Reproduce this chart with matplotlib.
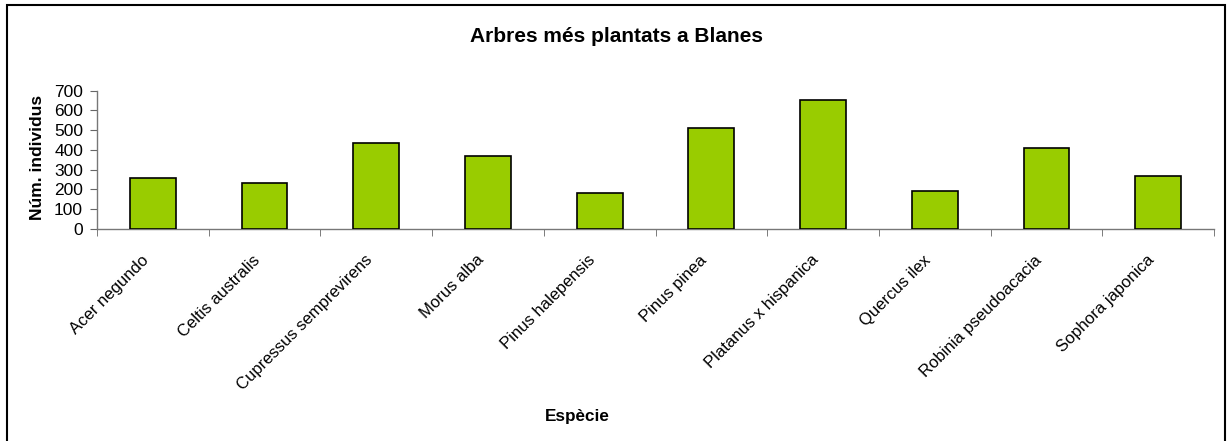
import matplotlib.pyplot as plt
from matplotlib.patches import Rectangle
from matplotlib.ticker import FixedLocator
from matplotlib.transforms import ScaledTranslation

plt.rcParams['font.family'] = ['Liberation Sans', 'DejaVu Sans']

# Tree species and number of trees planted
species = ["Acer negundo", "Celtis australis", "Cupressus semprevirens", "Morus alba",
           "Pinus halepensis", "Pinus pinea", "Platanus x hispanica", "Quercus ilex",
           "Robinia pseudoacacia", "Sophora japonica"]
counts = [259, 231, 436, 368, 183, 511, 655, 191, 408, 265]
y_ticks = [0, 100, 200, 300, 400, 500, 600, 700]

W, H = 1227, 441
fig = plt.figure(figsize=(W / 100, H / 100), dpi=100)
ax = fig.add_axes([97 / W, 1 - 228.7 / H, (1214 - 97) / W, (228.7 - 90.7) / H])

x = list(range(len(species)))
ax.bar(x, counts, width=0.41, color='#99CC00', edgecolor='black', linewidth=1.2, zorder=3)

ax.set_xlim(-0.5, len(species) - 0.5)
ax.set_ylim(0, 700)
ax.set_yticks(y_ticks)
ax.set_yticklabels([str(v) for v in y_ticks], fontsize=12.5)

ax.set_xticks(x)
ax.set_xticklabels(species, rotation=45, ha='right', rotation_mode='anchor', fontsize=12)
ax.tick_params(axis='x', which='major', length=0, pad=17)
shift = ScaledTranslation(-12 / 100, 0, fig.dpi_scale_trans)
for lab in ax.get_xticklabels():
    lab.set_transform(lab.get_transform() + shift)
ax.xaxis.set_minor_locator(FixedLocator([i - 0.5 for i in range(len(species) + 1)]))
ax.tick_params(axis='x', which='minor', length=5, color='#666666', direction='out')
ax.tick_params(axis='y', length=5, color='#666666', pad=5)

for s in ['top', 'right']:
    ax.spines[s].set_visible(False)
for s in ['left', 'bottom']:
    ax.spines[s].set_color('#777777')
    ax.spines[s].set_linewidth(1.0)

fig.text(617 / W, 1 - 37 / H, "Arbres més plantats a Blanes", ha='center', va='center',
         fontsize=15, fontweight='bold')
fig.text(37 / W, 1 - 157 / H, "Núm. individus", ha='center', va='center', rotation=90,
         fontsize=12.5, fontweight='bold')
fig.text(577 / W, 1 - 416 / H, "Espècie", ha='center', va='center',
         fontsize=12.3, fontweight='bold')

# outer chart border
fig.add_artist(Rectangle((7 / W, -0.01), (1225 - 7) / W, 1 - 5 / H + 0.01,
                         transform=fig.transFigure, fill=False, edgecolor='black', linewidth=1.5))

fig.savefig("out.png", dpi=100)
